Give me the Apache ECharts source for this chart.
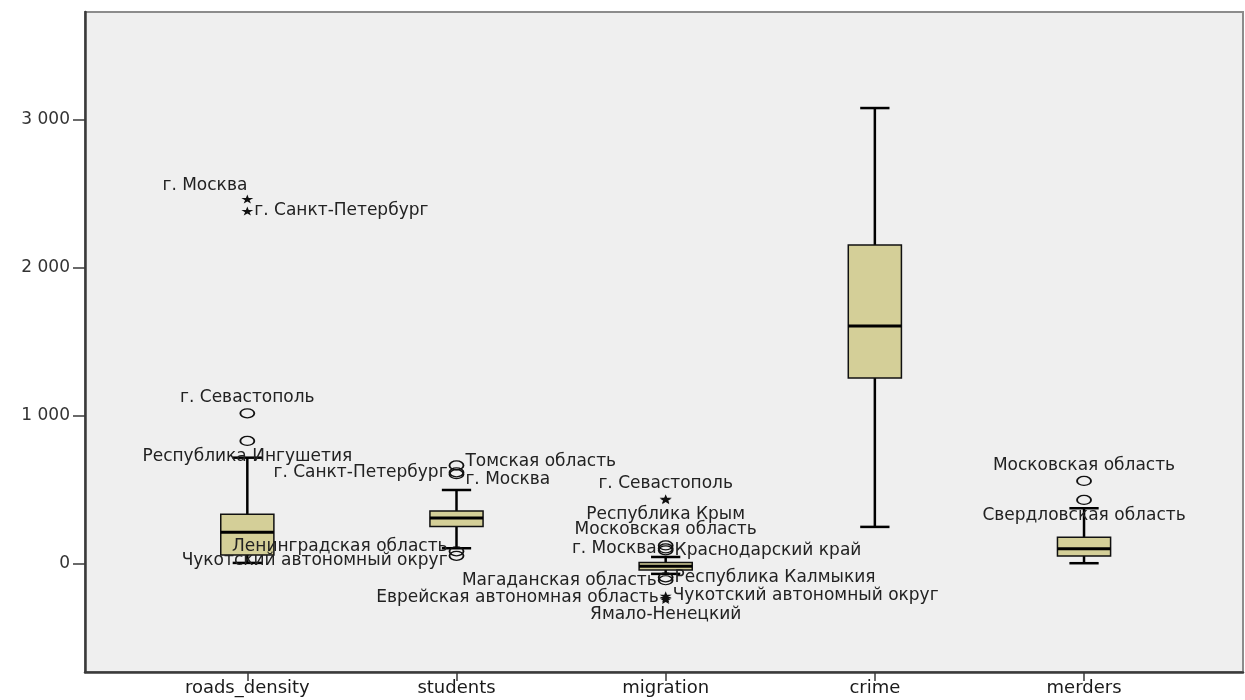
<!DOCTYPE html>
<html><head><meta charset="utf-8">
<script src="https://cdn.jsdelivr.net/npm/echarts@6/dist/echarts.min.js"></script>
<style>html,body{margin:0;padding:0;background:#fff}#c{width:1245px;height:700px}</style>
</head><body><div id="c"></div>
<script>
const categories = ['roads_density', 'students', 'migration', 'crime', 'merders'];
const whiskerLow = [7, 106, -67, 250, 5];
const q1 = [61, 252, -40, 1255, 54];
const median = [214, 310, -15, 1605, 103];
const q3 = [335, 357, 10, 2152, 180];
const whiskerHigh = [717, 499, 47, 3076, 376];
const yTicks = [0, 1000, 2000, 3000];

// outliers (circles)
const outlierCat = [0, 0, 1, 1, 1, 1, 1, 2, 2, 2, 2, 2, 4, 4];
const outlierVal = [1016, 830, 665, 618, 606, 85, 55, 125, 105, 92, -90, -110, 560, 432];
const outlierName = ['г. Севастополь', 'Республика Ингушетия', 'Томская область', 'г. Санкт-Петербург', 'г. Москва',
  'Ленинградская область', 'Чукотский автономный округ', 'Московская область', 'г. Москва', 'Краснодарский край',
  'Республика Калмыкия', 'Магаданская область', 'Московская область', 'Свердловская область'];
const outlierSide = ['top', 'bottom', 'rightUp', 'left', 'rightDown', 'leftUp', 'leftDown', 'top', 'left', 'right',
  'right', 'left', 'top', 'bottom'];

// extremes (stars)
const extremeCat = [0, 0, 2, 2, 2, 2, 2];
const extremeVal = [2462, 2381, 440, 434, -215, -230, -240];
const extremeName = ['г. Москва', 'г. Санкт-Петербург', 'г. Севастополь', 'Республика Крым',
  'Чукотский автономный округ', 'Еврейская автономная область', 'Ямало-Ненецкий'];
const extremeSide = ['topLeft', 'right', 'top', 'bottom', 'right', 'left', 'bottom'];

const sideStyle = {
  top: { position: 'top', distance: 2 },
  bottom: { position: 'bottom', distance: 2 },
  left: { position: 'left', distance: 1 },
  right: { position: 'right', distance: 1 },
  leftUp: { position: 'left', distance: 1, offset: [0, -5] },
  leftDown: { position: 'left', distance: 1, offset: [0, 5] },
  rightUp: { position: 'right', distance: 1, offset: [0, -4] },
  rightDown: { position: 'right', distance: 1, offset: [0, 5] },
  topLeft: { position: 'top', align: 'right', distance: 0 }
};
const FONT = 'DejaVu Sans';
function labelFor(side) {
  return Object.assign({ show: true, formatter: '{b}', color: '#222', fontSize: 17, fontFamily: FONT }, sideStyle[side]);
}

const boxData = categories.map((c, i) => [i, whiskerLow[i], q1[i], median[i], q3[i], whiskerHigh[i]]);
const circleData = outlierVal.map((v, i) => ({ name: outlierName[i], value: [outlierCat[i], v], label: labelFor(outlierSide[i]) }));
const starData = extremeVal.map((v, i) => ({ name: extremeName[i], value: [extremeCat[i], v], label: labelFor(extremeSide[i]) }));

function renderBox(params, api) {
  const x = api.value(0);
  const lo = api.coord([x, api.value(1)]);
  const b1 = api.coord([x, api.value(2)]);
  const md = api.coord([x, api.value(3)]);
  const b3 = api.coord([x, api.value(4)]);
  const hi = api.coord([x, api.value(5)]);
  const bw = api.size([0.254, 0])[0];
  const cw = api.size([0.14, 0])[0];
  const cx = lo[0];
  const line = (x1, y1, x2, y2, w) => ({ type: 'line', shape: { x1, y1, x2, y2 }, style: { stroke: '#000', lineWidth: w } });
  return {
    type: 'group', children: [
      line(cx, hi[1], cx, b3[1], 2.5),
      line(cx - cw / 2, hi[1], cx + cw / 2, hi[1], 2.5),
      line(cx, b1[1], cx, lo[1], 2.5),
      line(cx - cw / 2, lo[1], cx + cw / 2, lo[1], 2.5),
      { type: 'rect', shape: { x: cx - bw / 2, y: b3[1], width: bw, height: b1[1] - b3[1] }, style: { fill: '#d4cf98', stroke: '#111', lineWidth: 1.5 } },
      line(cx - bw / 2, md[1], cx + bw / 2, md[1], 3)
    ]
  };
}

const fmt = v => String(v).replace(/\B(?=(\d{3})+(?!\d))/g, ' ');
const catTicks = categories.map((c, i) => i);

const chart = echarts.init(document.getElementById('c'));
chart.setOption({
  animation: false,
  grid: { left: 85, right: 2, top: 12, bottom: 28, show: true, backgroundColor: '#efefef', borderColor: '#8c8c8c', borderWidth: 2 },
  xAxis: {
    type: 'value', min: -0.776, max: 4.76, splitLine: { show: false },
    axisLine: { onZero: false, lineStyle: { color: '#3a3a3a', width: 2.5 } },
    axisTick: { customValues: catTicks, length: 9, lineStyle: { color: '#3a3a3a', width: 1.5 } },
    axisLabel: { customValues: catTicks, formatter: v => categories[Math.round(v)], color: '#1a1a1a', fontSize: 18, fontFamily: FONT, margin: 7 }
  },
  yAxis: {
    type: 'value', min: -729, max: 3724, splitLine: { show: false },
    axisLine: { show: true, onZero: false, lineStyle: { color: '#3a3a3a', width: 2.5 } },
    axisTick: { show: true, customValues: yTicks, length: 12, lineStyle: { color: '#3a3a3a', width: 1.5 } },
    axisLabel: { customValues: yTicks, formatter: fmt, color: '#333', fontSize: 17, fontFamily: FONT, margin: 15 }
  },
  series: [
    { type: 'custom', renderItem: renderBox, data: boxData, encode: { x: 0, y: [1, 2, 3, 4, 5] }, z: 2 },
    {
      type: 'scatter', data: circleData, z: 3,
      symbol: 'path://M0,50A50,50,0,1,1,100,50A50,50,0,1,1,0,50Z', symbolSize: [14, 9],
      itemStyle: { color: 'rgba(0,0,0,0)', borderColor: '#111', borderWidth: 1.5, opacity: 1 }
    },
    {
      type: 'scatter', data: starData, z: 3,
      symbol: 'path://M50,0L61,35L98,35L68,57L79,91L50,70L21,91L32,57L2,35L39,35Z', symbolSize: [12, 9],
      itemStyle: { color: '#111', opacity: 1 }
    }
  ]
});
</script>
</body></html>
